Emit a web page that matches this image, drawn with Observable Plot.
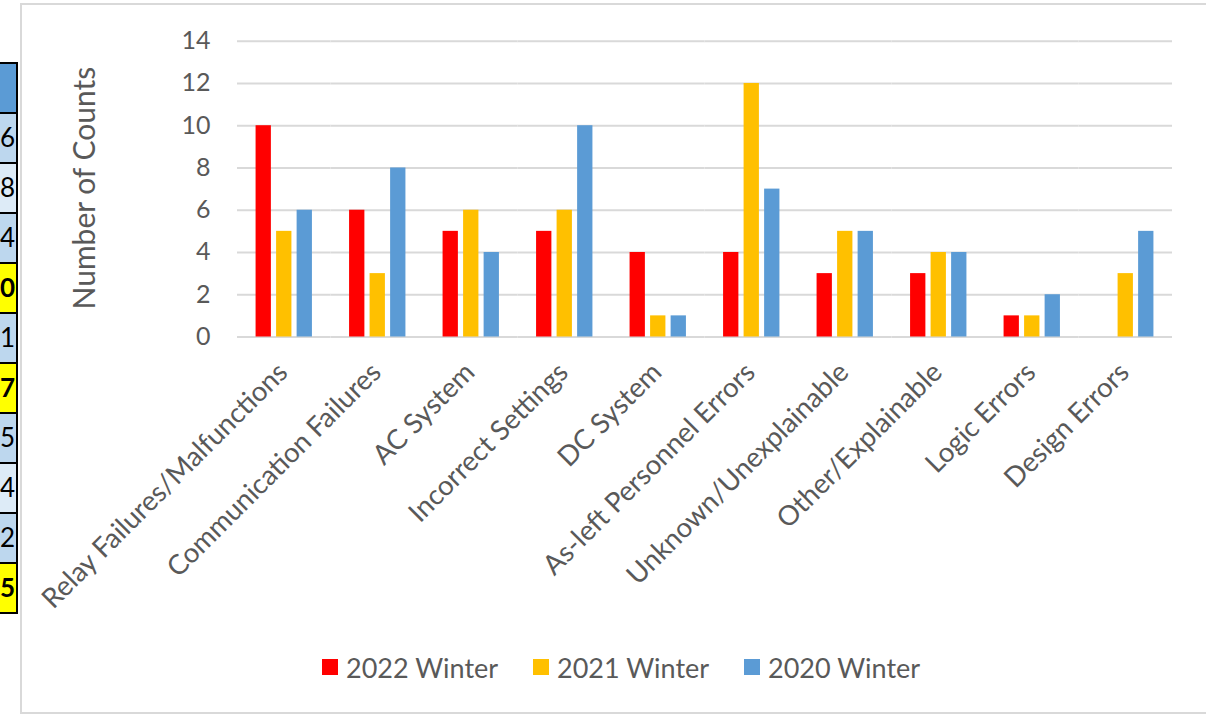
<!DOCTYPE html>
<html>
<head>
<meta charset="utf-8">
<script src="https://cdn.jsdelivr.net/npm/d3@7"></script>
<script src="https://cdn.jsdelivr.net/npm/@observablehq/plot@0.6"></script>
<style>
  html, body { margin: 0; padding: 0; background: #fff; }
  body { width: 1206px; height: 716px; overflow: hidden; position: relative; font-family: Lato, sans-serif; }
  #box { position: absolute; left: 20px; top: 3px; width: 1200px; height: 707px; border: 2px solid #d9d9d9; border-right: none; }
  #tbl { position: absolute; left: 0; top: 62px; width: 18px; }
  .cell { box-sizing: border-box; width: 18px; height: 52px; border: 2px solid #000; border-left: none; margin-top: -2px; position: relative; }
  .cell:first-child { margin-top: 0; }
  .cell span { position: absolute; right: 1px; top: 50%; transform: translateY(-54%); font-size: 26px; line-height: 1; color: #000; font-family: Lato, sans-serif; }
  #chart { position: absolute; left: 0; top: 0; }
  #legend { position: absolute; left: 0; top: 649px; width: 1206px; height: 36px; }
  .item { position: absolute; top: 0; height: 36px; display: flex; align-items: center; }
  .sw { width: 16px; height: 16px; margin-right: 8px; }
  .lbl { font-size: 27px; color: #595959; font-family: Lato, sans-serif; white-space: nowrap; }
</style>
</head>
<body>
<div id="box"></div>
<div id="tbl"></div>
<div id="chart"></div>
<div id="legend"></div>
<script>
const categories = ["Relay Failures/Malfunctions", "Communication Failures", "AC System", "Incorrect Settings", "DC System", "As-left Personnel Errors", "Unknown/Unexplainable", "Other/Explainable", "Logic Errors", "Design Errors"];
const seriesNames = ["2022 Winter", "2021 Winter", "2020 Winter"];
const winter2022 = [10, 6, 5, 5, 4, 4, 3, 3, 1, 0];
const winter2021 = [5, 3, 6, 6, 1, 12, 5, 4, 1, 3];
const winter2020 = [6, 8, 4, 10, 1, 7, 5, 4, 2, 5];
const seriesColors = ["#FF0000", "#FFC000", "#5B9BD5"];
const yTicks = [0, 2, 4, 6, 8, 10, 12, 14];
const yTitle = "Number of Counts";
// partially visible table at the left edge of the screenshot
const tableValues = ["", "6", "8", "4", "0", "1", "7", "5", "4", "2", "5"];
const tableKinds = ["head", "a", "b", "a", "y", "a", "y", "a", "b", "a", "y"];

const rows = [];
[winter2022, winter2021, winter2020].forEach((vals, s) =>
  vals.forEach((v, i) => rows.push({category: categories[i], series: seriesNames[s], value: v})));

const chart = Plot.plot({
  width: 1206,
  height: 640,
  marginLeft: 237,
  marginRight: 34,
  marginTop: 40.7,
  marginBottom: 303.5,
  style: {fontFamily: "Lato, sans-serif", color: "#595959", background: "transparent", overflow: "visible"},
  fx: {domain: categories, padding: 0, round: false, axis: null, label: null},
  x: {domain: seriesNames, paddingInner: 0.254, paddingOuter: 0.905, round: false, axis: null},
  y: {domain: [0, 14], axis: null},
  color: {domain: seriesNames, range: seriesColors},
  marks: [
    Plot.gridY(yTicks, {stroke: "#d9d9d9", strokeOpacity: 1, strokeWidth: 2}),
    Plot.barY(rows, {fx: "category", x: "series", y: "value", fill: "series"}),
    Plot.axisY(yTicks, {tickSize: 0, tickPadding: 27, fontSize: 25, fill: "#595959", label: null}),
    Plot.text(categories, {fx: d => d, text: d => d, frameAnchor: "bottom", rotate: -45, textAnchor: "end", lineAnchor: "bottom", dx: 5, dy: 37, fontSize: 27.5, fill: "#595959"}),
    Plot.text([yTitle], {fx: () => categories[0], text: d => d, frameAnchor: "left", textAnchor: "middle", lineAnchor: "middle", rotate: -90, dx: -152, dy: -1, fontSize: 30, fill: "#595959"})
  ]
});
document.getElementById("chart").appendChild(chart);

const legend = document.getElementById("legend");
seriesNames.forEach((name, i) => {
  const item = document.createElement("div");
  item.className = "item";
  item.style.left = (322 + i * 211) + "px";
  const sw = document.createElement("div");
  sw.className = "sw";
  sw.style.background = seriesColors[i];
  const lbl = document.createElement("span");
  lbl.className = "lbl";
  lbl.textContent = name;
  item.appendChild(sw);
  item.appendChild(lbl);
  legend.appendChild(item);
});

const tbl = document.getElementById("tbl");
const kindColor = {head: "#5B9BD5", a: "#BDD7EE", b: "#DDEBF7", y: "#FFFF00"};
tableValues.forEach((v, i) => {
  const c = document.createElement("div");
  c.className = "cell";
  c.style.background = kindColor[tableKinds[i]];
  const s = document.createElement("span");
  s.textContent = v;
  if (tableKinds[i] === "y") s.style.fontWeight = "bold";
  c.appendChild(s);
  tbl.appendChild(c);
});
</script>
</body>
</html>
